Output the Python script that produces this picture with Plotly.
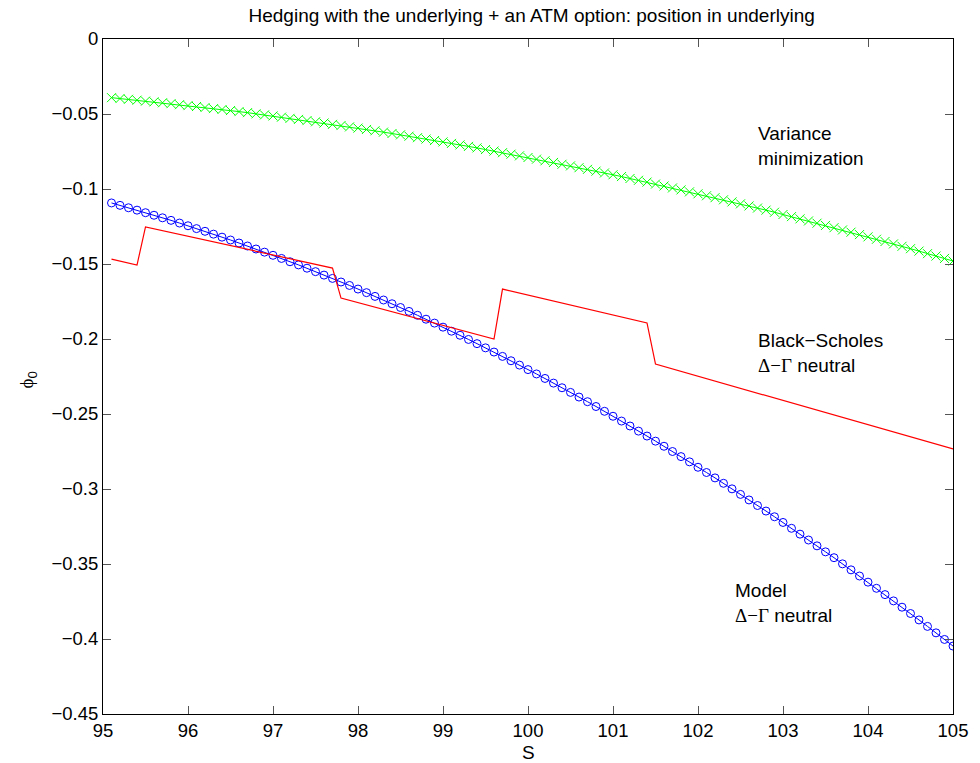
import plotly.graph_objects as go

# ---- data ----
S = [round(95.1 + 0.1 * i, 1) for i in range(100)]

model_phi0 = [
    -0.1093, -0.1109, -0.1125, -0.1141, -0.1158, -0.1175, -0.1192, -0.1209, -0.1227, -0.1245,
    -0.1264, -0.1282, -0.1301, -0.1321, -0.1340, -0.1360, -0.1380, -0.1400, -0.1421, -0.1442,
    -0.1463, -0.1485, -0.1506, -0.1528, -0.1551, -0.1574, -0.1596, -0.1620, -0.1643, -0.1667,
    -0.1691, -0.1716, -0.1740, -0.1765, -0.1790, -0.1816, -0.1842, -0.1868, -0.1894, -0.1921,
    -0.1948, -0.1975, -0.2003, -0.2031, -0.2059, -0.2087, -0.2116, -0.2145, -0.2174, -0.2204,
    -0.2233, -0.2263, -0.2294, -0.2325, -0.2356, -0.2387, -0.2418, -0.2450, -0.2482, -0.2515,
    -0.2547, -0.2580, -0.2614, -0.2647, -0.2681, -0.2715, -0.2750, -0.2784, -0.2819, -0.2855,
    -0.2890, -0.2926, -0.2962, -0.2999, -0.3036, -0.3073, -0.3110, -0.3147, -0.3185, -0.3223,
    -0.3262, -0.3301, -0.3340, -0.3379, -0.3419, -0.3458, -0.3499, -0.3539, -0.3580, -0.3621,
    -0.3662, -0.3704, -0.3746, -0.3788, -0.3830, -0.3873, -0.3916, -0.3959, -0.4003, -0.4047,
]

varmin_phi0 = [
    -0.0391, -0.0397, -0.0402, -0.0408, -0.0414, -0.0419, -0.0425, -0.0431, -0.0438, -0.0444,
    -0.0450, -0.0457, -0.0464, -0.0470, -0.0477, -0.0484, -0.0491, -0.0499, -0.0506, -0.0513,
    -0.0521, -0.0529, -0.0536, -0.0544, -0.0552, -0.0560, -0.0569, -0.0577, -0.0586, -0.0594,
    -0.0603, -0.0612, -0.0621, -0.0630, -0.0639, -0.0648, -0.0658, -0.0667, -0.0677, -0.0686,
    -0.0696, -0.0706, -0.0716, -0.0726, -0.0737, -0.0747, -0.0758, -0.0768, -0.0779, -0.0790,
    -0.0801, -0.0812, -0.0823, -0.0835, -0.0846, -0.0858, -0.0869, -0.0881, -0.0893, -0.0905,
    -0.0917, -0.0930, -0.0942, -0.0954, -0.0967, -0.0980, -0.0993, -0.1006, -0.1019, -0.1032,
    -0.1045, -0.1058, -0.1072, -0.1086, -0.1099, -0.1113, -0.1127, -0.1141, -0.1155, -0.1170,
    -0.1184, -0.1199, -0.1213, -0.1228, -0.1243, -0.1258, -0.1273, -0.1288, -0.1304, -0.1319,
    -0.1335, -0.1350, -0.1366, -0.1382, -0.1398, -0.1414, -0.1431, -0.1447, -0.1463, -0.1480,
]

bs_S = [95.1, 95.4, 95.5, 97.7, 97.8, 99.6, 99.7, 101.4, 101.5, 105.0]
bs_phi0 = [-0.1467, -0.1507, -0.1253, -0.1527, -0.1727, -0.2000, -0.1667, -0.1893, -0.2167, -0.2733]

x_ticks = [95, 96, 97, 98, 99, 100, 101, 102, 103, 104, 105]
y_ticks = [0, -0.05, -0.1, -0.15, -0.2, -0.25, -0.3, -0.35, -0.4, -0.45]
y_ticktext = ["0", "\u22120.05", "\u22120.1", "\u22120.15", "\u22120.2",
              "\u22120.25", "\u22120.3", "\u22120.35", "\u22120.4", "\u22120.45"]

FONT = "Liberation Sans, Arial, sans-serif"
FS = 19
FS_TICK = 18.5

fig = go.Figure()
fig.add_trace(go.Scatter(
    x=S, y=varmin_phi0, mode="lines+markers",
    line=dict(color="#00ff00", width=1),
    marker=dict(symbol="x-thin-open", size=9, line=dict(color="#00ff00", width=1)),
    showlegend=False))
fig.add_trace(go.Scatter(
    x=S, y=model_phi0, mode="lines+markers",
    line=dict(color="#0000ff", width=1),
    marker=dict(symbol="circle-open", size=8, color="#0000ff", line=dict(color="#0000ff", width=1)),
    showlegend=False))
fig.add_trace(go.Scatter(
    x=bs_S, y=bs_phi0, mode="lines",
    line=dict(color="#ff0000", width=1.2),
    showlegend=False))

dg = '<span style="font-family:\'Liberation Serif\', serif">\u0394\u2212\u0393</span>'
ann = [
    dict(x=102.68, y=-0.0713, text="Variance<br>minimization"),
    dict(x=102.68, y=-0.2093, text="Black\u2212Scholes<br>" + dg + " neutral"),
    dict(x=102.41, y=-0.3757, text="Model<br>" + dg + " neutral"),
]
for a in ann:
    fig.add_annotation(x=a["x"], y=a["y"], text=a["text"], xref="x", yref="y",
                       showarrow=False, xanchor="left", yanchor="middle", align="left",
                       font=dict(family=FONT, size=FS, color="black"))

fig.add_annotation(x=0.5, y=-(752.5 - 714) / 675, xref="paper", yref="paper", text="S",
                   showarrow=False, xanchor="center", yanchor="middle", borderpad=0,
                   font=dict(family=FONT, size=FS, color="black"))
fig.add_annotation(x=-0.0887, y=0.495, xref="paper", yref="paper",
                   text='<span style="font-family:\'Liberation Serif\', serif">\u03d5</span><sub>0</sub>',
                   showarrow=False, textangle=-90, xanchor="center", yanchor="middle",
                   font=dict(family=FONT, size=FS, color="black"))

fig.update_layout(
    width=980, height=763,
    margin=dict(l=103, r=20, t=39, b=49),
    paper_bgcolor="white", plot_bgcolor="white",
    font=dict(family=FONT, size=FS, color="black"),
    title=dict(text="Hedging with the underlying + an ATM option: position in underlying",
               x=0.5425, xanchor="center", y=1 - 15 / 763, yanchor="middle", yref="container",
               font=dict(family=FONT, size=FS, color="black")),
)
fig.update_xaxes(range=[95, 105], tickvals=x_ticks, ticks="inside", ticklen=8, tickwidth=1,
                 tickcolor="#555555", showline=True, linecolor="black", linewidth=1, mirror="ticks",
                 showgrid=False, zeroline=False, tickfont=dict(family=FONT, size=FS_TICK, color="black"))
fig.update_yaxes(range=[-0.45, 0], tickvals=y_ticks, ticktext=y_ticktext, ticks="inside", ticklen=8,
                 tickwidth=1, tickcolor="#555555", showline=True, linecolor="black", linewidth=1,
                 mirror="ticks", showgrid=False, zeroline=False,
                 tickfont=dict(family=FONT, size=FS_TICK, color="black"))

fig.write_html("out.html")
